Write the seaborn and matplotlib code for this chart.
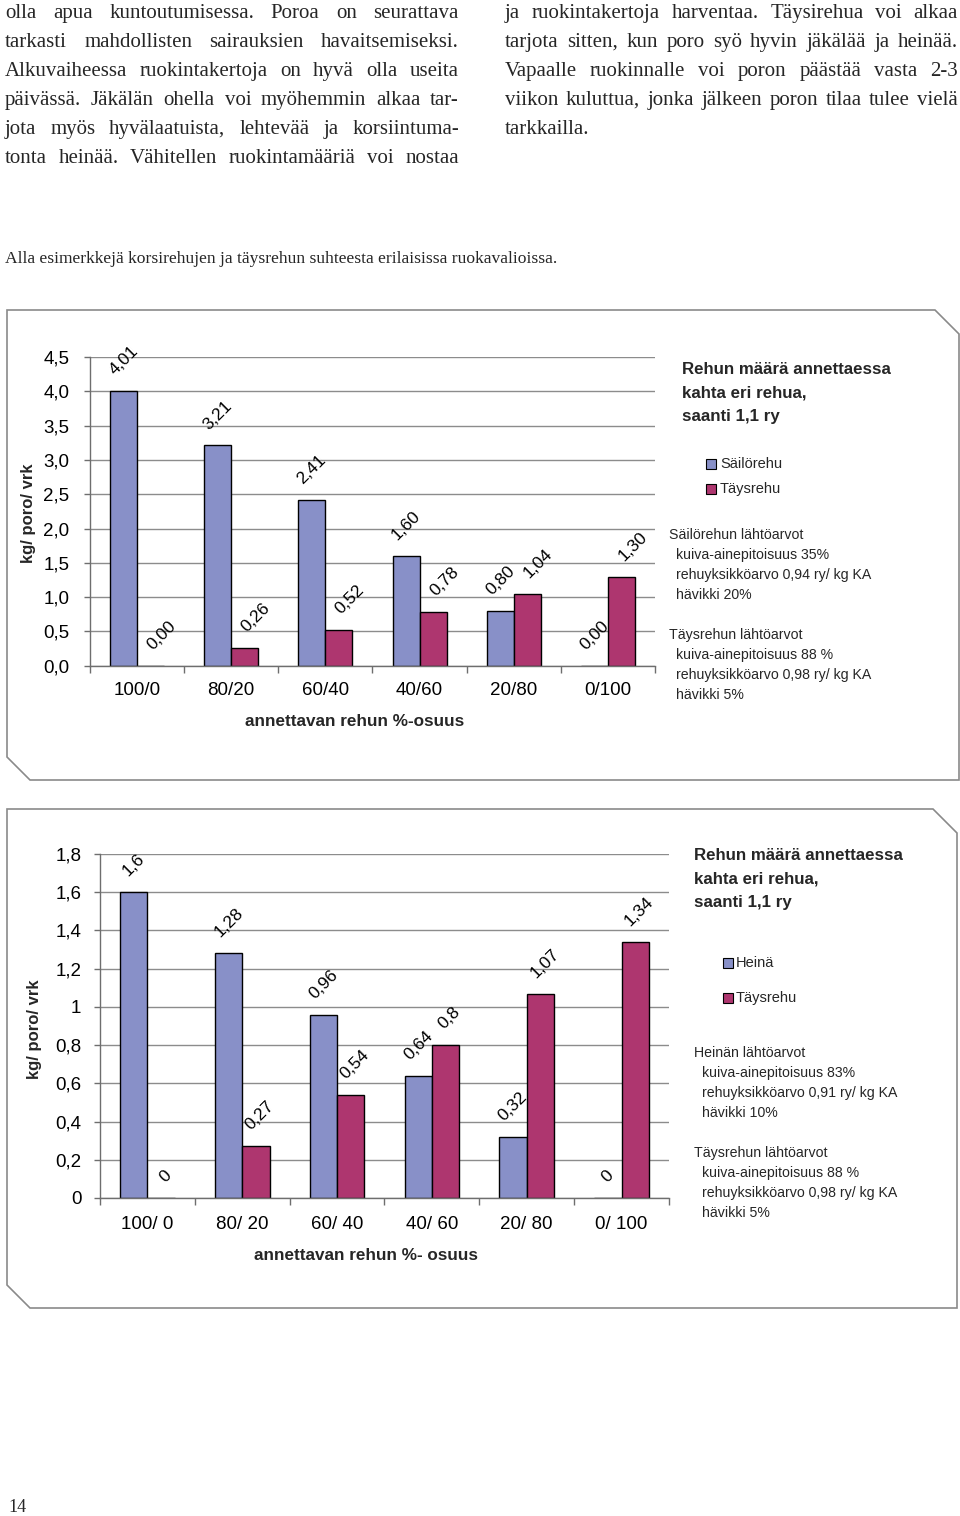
import numpy as np
import pandas as pd
import matplotlib
matplotlib.use("Agg")
import matplotlib.pyplot as plt
import seaborn as sns
from matplotlib.patches import Polygon, Rectangle

# ---------------- data ----------------
categories1 = ["100/0", "80/20", "60/40", "40/60", "20/80", "0/100"]
series1 = ["Säilörehu", "Täysrehu"]
sailorehu = [4.01, 3.21, 2.41, 1.60, 0.80, 0.00]
taysrehu1 = [0.00, 0.26, 0.52, 0.78, 1.04, 1.30]
yticks1 = [0.0, 0.5, 1.0, 1.5, 2.0, 2.5, 3.0, 3.5, 4.0, 4.5]
yticklabels1 = ["0,0", "0,5", "1,0", "1,5", "2,0", "2,5", "3,0", "3,5", "4,0", "4,5"]

categories2 = ["100/ 0", "80/ 20", "60/ 40", "40/ 60", "20/ 80", "0/ 100"]
series2 = ["Heinä", "Täysrehu"]
heina = [1.6, 1.28, 0.96, 0.64, 0.32, 0.0]
taysrehu2 = [0.0, 0.27, 0.54, 0.8, 1.07, 1.34]
yticks2 = [0.0, 0.2, 0.4, 0.6, 0.8, 1.0, 1.2, 1.4, 1.6, 1.8]
yticklabels2 = ["0", "0,2", "0,4", "0,6", "0,8", "1", "1,2", "1,4", "1,6", "1,8"]

title_lines = ["Rehun määrä annettaessa", "kahta eri rehua,", "saanti 1,1 ry"]
notes1 = ["Säilörehun lähtöarvot", "kuiva-ainepitoisuus 35%", "rehuyksikköarvo 0,94 ry/ kg KA", "hävikki 20%",
          "Täysrehun lähtöarvot", "kuiva-ainepitoisuus 88 %", "rehuyksikköarvo 0,98 ry/ kg KA", "hävikki 5%"]
notes2 = ["Heinän lähtöarvot", "kuiva-ainepitoisuus 83%", "rehuyksikköarvo 0,91 ry/ kg KA", "hävikki 10%",
          "Täysrehun lähtöarvot", "kuiva-ainepitoisuus 88 %", "rehuyksikköarvo 0,98 ry/ kg KA", "hävikki 5%"]

left_col = ["olla apua kuntoutumisessa. Poroa on seurattava",
            "tarkasti mahdollisten sairauksien havaitsemiseksi.",
            "Alkuvaiheessa ruokintakertoja on hyvä olla useita",
            "päivässä. Jäkälän ohella voi myöhemmin alkaa tar-",
            "jota myös hyvälaatuista, lehtevää ja korsiintuma-",
            "tonta heinää. Vähitellen ruokintamääriä voi nostaa"]
right_col = ["ja ruokintakertoja harventaa. Täysirehua voi alkaa",
             "tarjota sitten, kun poro syö hyvin jäkälää ja heinää.",
             "Vapaalle ruokinnalle voi poron päästää vasta 2-3",
             "viikon kuluttua, jonka jälkeen poron tilaa tulee vielä",
             "tarkkailla."]
caption = "Alla esimerkkejä korsirehujen ja täysrehun suhteesta erilaisissa ruokavalioissa."
page_no = "14"

BLUE = "#8890C8"
PINK = "#AE366F"
GRID = "#8c8c8c"
FRAME = "#8a8a8a"

# ---------------- figure ----------------
sns.set_theme(style="white")
plt.rcParams["font.family"] = ["Liberation Sans", "DejaVu Sans"]

W, H = 960, 1516
fig = plt.figure(figsize=(W / 100, H / 100), dpi=100)
renderer = fig.canvas.get_renderer()


def fx(x):
    return x / W


def fy(y):
    return 1 - y / H


def ftext(x, y, s, **kw):
    return fig.text(fx(x), fy(y), s, **kw)


def add_axes_px(left, top, right, bottom):
    return fig.add_axes([fx(left), fy(bottom), (right - left) / W, (bottom - top) / H])


def draw_chart(ax, cats, a, b, names, yt, ytl, fmt, xpad, ypad, dx_second):
    df = pd.DataFrame({"cat": cats * 2,
                       "series": [names[0]] * len(cats) + [names[1]] * len(cats),
                       "value": list(a) + list(b)})
    sns.barplot(data=df, x="cat", y="value", hue="series", order=cats, hue_order=names,
                palette=[BLUE, PINK], width=0.575, gap=0, saturation=1,
                edgecolor="black", linewidth=1.0, errorbar=None, legend=False, ax=ax)
    for cont, vals, dx in zip(ax.containers, [a, b], [0, dx_second]):
        for rect, v in zip(cont.patches, vals):
            ax.annotate(fmt(v), (rect.get_x() + rect.get_width() / 2, rect.get_height()),
                        xytext=(dx, 9.5), textcoords="offset points", rotation=45,
                        ha="center", va="bottom", fontsize=12.5, color="black")
    ax.set_xlim(-0.5, len(cats) - 0.5)
    ax.set_ylim(0, yt[-1])
    ax.set_yticks(yt, ytl)
    ax.set_xticks(range(len(cats)), cats)
    ax.set_xticks(np.arange(-0.5, len(cats), 1.0), minor=True)
    ax.yaxis.grid(True, color=GRID, lw=1.0)
    ax.xaxis.grid(False)
    ax.set_axisbelow(True)
    ax.tick_params(axis="x", which="major", length=0, pad=xpad, labelsize=13.5, colors="black")
    ax.tick_params(axis="x", which="minor", length=5, width=1, color="#6e6e6e", direction="out",
                   bottom=True)
    ax.tick_params(axis="y", length=4, width=1, color="#6e6e6e", pad=ypad, labelsize=13.5,
                   colors="black", left=True)
    for s in ["top", "right"]:
        ax.spines[s].set_visible(False)
    for s in ["left", "bottom"]:
        ax.spines[s].set_visible(True)
        ax.spines[s].set_color("#6e6e6e")
        ax.spines[s].set_linewidth(1.0)
    ax.set_facecolor("none")


def frame(pts):
    poly = Polygon([(fx(x), fy(y)) for x, y in pts], closed=True, fill=False,
                   edgecolor=FRAME, lw=1.2, transform=fig.transFigure)
    fig.add_artist(poly)


# ---------------- chart 1 ----------------
frame([(7, 310), (935, 310), (959, 334), (959, 780), (30, 780), (7, 757)])
ax1 = add_axes_px(90, 357, 655, 665.7)
draw_chart(ax1, categories1, sailorehu, taysrehu1, series1, yticks1, yticklabels1,
           lambda v: f"{v:.2f}".replace(".", ","), xpad=11.5, ypad=11, dx_second=8)
ax1.set_xlabel("annettavan rehun %-osuus", fontsize=12.3, fontweight="bold", va="center")
ax1.xaxis.set_label_coords((355 - 90) / 565, (665.7 - 722) / 308.7)
ax1.set_ylabel("kg/ poro/ vrk", fontsize=12, fontweight="bold", va="center", ha="center")
ax1.yaxis.set_label_coords((28 - 90) / 565, (665.7 - 513) / 308.7)

for i, line in enumerate(title_lines):
    ftext(682, 369 + 24 * i, line, fontsize=12.2, fontweight="bold", va="center", ha="left")
for i, (name, col) in enumerate(zip(series1, [BLUE, PINK])):
    yc = 464 + 25 * i
    fig.add_artist(Rectangle((fx(706), fy(yc + 5)), 10 / W, 10 / H, transform=fig.transFigure,
                             facecolor=col, edgecolor="black", lw=0.8))
    ftext(720, yc, name, fontsize=10.5, va="center", ha="left")
for i, line in enumerate(notes1):
    base = 535 if i < 4 else 635
    k = i % 4
    ftext(669 if k == 0 else 676, base + 20 * k, line, fontsize=10.2, va="center", ha="left")

# ---------------- chart 2 ----------------
frame([(7, 809), (933, 809), (957, 833), (957, 1308), (30, 1308), (7, 1285)])
ax2 = add_axes_px(100, 854, 669, 1198)
draw_chart(ax2, categories2, heina, taysrehu2, series2, yticks2, yticklabels2,
           lambda v: f"{v:g}".replace(".", ","), xpad=13, ypad=9.5, dx_second=3)
ax2.set_xlabel("annettavan rehun %- osuus", fontsize=12.3, fontweight="bold", va="center")
ax2.xaxis.set_label_coords((366 - 100) / 569, (1198 - 1256) / 344)
ax2.set_ylabel("kg/ poro/ vrk", fontsize=12, fontweight="bold", va="center", ha="center")
ax2.yaxis.set_label_coords((34 - 100) / 569, (1198 - 1029) / 344)

for i, line in enumerate(title_lines):
    ftext(694, 855 + 24 * i, line, fontsize=12.2, fontweight="bold", va="center", ha="left")
for i, (name, col) in enumerate(zip(series2, [BLUE, PINK])):
    yc = 963 + 35 * i
    fig.add_artist(Rectangle((fx(723), fy(yc + 5)), 10 / W, 10 / H, transform=fig.transFigure,
                             facecolor=col, edgecolor="black", lw=0.8))
    ftext(736, yc, name, fontsize=10.5, va="center", ha="left")
for i, line in enumerate(notes2):
    base = 1053 if i < 4 else 1153
    k = i % 4
    ftext(694 if k == 0 else 702, base + 20 * k, line, fontsize=10.2, va="center", ha="left")

# ---------------- body text (justified) ----------------
SERIF = "Liberation Serif"


def text_width(s, size):
    t = fig.text(0, 0, s, fontsize=size, family=SERIF)
    w = t.get_window_extent(renderer).width
    t.remove()
    return w


base_size = 15.0
col_w = 453.0
ratio = min(col_w / text_width(l, base_size) for l in left_col + right_col[:-1])
body_size = base_size * min(1.0, ratio * 0.99)


def place_line(x0, x1, yb, line, justify):
    words = line.split()
    objs = [fig.text(0, 0, w, fontsize=body_size, family=SERIF, va="baseline", ha="left")
            for w in words]
    widths = [o.get_window_extent(renderer).width for o in objs]
    if justify and len(words) > 1:
        gap = (x1 - x0 - sum(widths)) / (len(words) - 1)
    else:
        gap = text_width("a b", body_size) - text_width("ab", body_size)
    x = x0
    for o, w in zip(objs, widths):
        o.set_position((fx(x), fy(yb)))
        x += w + gap


for i, line in enumerate(left_col):
    place_line(5, 459, 18 + 29 * i, line, True)
for i, line in enumerate(right_col):
    place_line(505, 958, 18 + 29 * i, line, i < len(right_col) - 1)

cap_size = 10.0 * 552 / text_width(caption, 10.0)
ftext(5, 263, caption, fontsize=cap_size, family=SERIF, va="baseline", ha="left")
ftext(8, 1512, page_no, fontsize=13, family=SERIF, va="baseline", ha="left")

fig.savefig("out.png", dpi=100, facecolor="white")
